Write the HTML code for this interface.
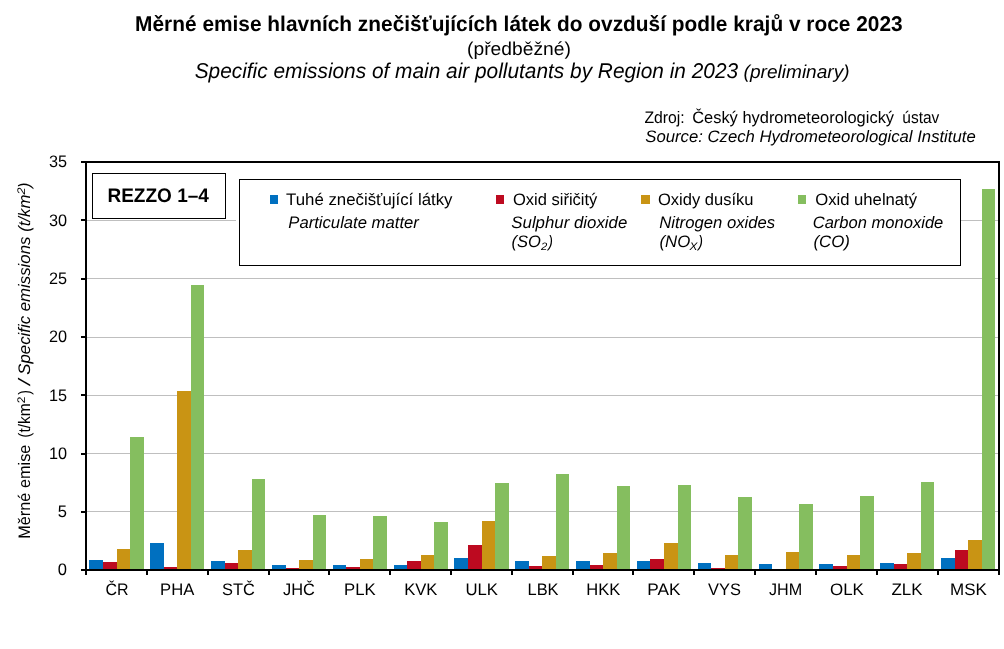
<!DOCTYPE html>
<html lang="cs"><head><meta charset="utf-8"><title>Měrné emise hlavních znečišťujících látek do ovzduší podle krajů v roce 2023</title>
<style>html,body{margin:0;padding:0;background:#fff}svg{display:block}text{font-family:"Liberation Sans",Arial,sans-serif}</style></head>
<body><svg width="1004" height="649" viewBox="0 0 1004 649" shape-rendering="crispEdges" text-rendering="geometricPrecision">
<rect width="1004" height="649" fill="#fff"/>
<rect x="87" y="511" width="911" height="1" fill="#BFBFBF"/>
<rect x="87" y="453" width="911" height="1" fill="#BFBFBF"/>
<rect x="87" y="395" width="911" height="1" fill="#BFBFBF"/>
<rect x="87" y="337" width="911" height="1" fill="#BFBFBF"/>
<rect x="87" y="278" width="911" height="1" fill="#BFBFBF"/>
<rect x="87" y="220" width="911" height="1" fill="#BFBFBF"/>
<rect x="89" y="560" width="14" height="10" fill="#0070C0"/>
<rect x="103" y="562" width="14" height="8" fill="#BD0A20"/>
<rect x="117" y="549" width="13" height="21" fill="#C99414"/>
<rect x="130" y="437" width="14" height="133" fill="#85BE5F"/>
<rect x="150" y="543" width="14" height="27" fill="#0070C0"/>
<rect x="164" y="567" width="13" height="3" fill="#BD0A20"/>
<rect x="177" y="391" width="14" height="179" fill="#C99414"/>
<rect x="191" y="285" width="13" height="285" fill="#85BE5F"/>
<rect x="211" y="561" width="14" height="9" fill="#0070C0"/>
<rect x="225" y="563" width="13" height="7" fill="#BD0A20"/>
<rect x="238" y="550" width="14" height="20" fill="#C99414"/>
<rect x="252" y="479" width="13" height="91" fill="#85BE5F"/>
<rect x="272" y="565" width="14" height="5" fill="#0070C0"/>
<rect x="286" y="568" width="13" height="2" fill="#BD0A20"/>
<rect x="299" y="560" width="14" height="10" fill="#C99414"/>
<rect x="313" y="515" width="13" height="55" fill="#85BE5F"/>
<rect x="333" y="565" width="13" height="5" fill="#0070C0"/>
<rect x="346" y="567" width="14" height="3" fill="#BD0A20"/>
<rect x="360" y="559" width="13" height="11" fill="#C99414"/>
<rect x="373" y="516" width="14" height="54" fill="#85BE5F"/>
<rect x="394" y="565" width="13" height="5" fill="#0070C0"/>
<rect x="407" y="561" width="14" height="9" fill="#BD0A20"/>
<rect x="421" y="555" width="13" height="15" fill="#C99414"/>
<rect x="434" y="522" width="14" height="48" fill="#85BE5F"/>
<rect x="454" y="558" width="14" height="12" fill="#0070C0"/>
<rect x="468" y="545" width="14" height="25" fill="#BD0A20"/>
<rect x="482" y="521" width="13" height="49" fill="#C99414"/>
<rect x="495" y="483" width="14" height="87" fill="#85BE5F"/>
<rect x="515" y="561" width="14" height="9" fill="#0070C0"/>
<rect x="529" y="566" width="13" height="4" fill="#BD0A20"/>
<rect x="542" y="556" width="14" height="14" fill="#C99414"/>
<rect x="556" y="474" width="13" height="96" fill="#85BE5F"/>
<rect x="576" y="561" width="14" height="9" fill="#0070C0"/>
<rect x="590" y="565" width="13" height="5" fill="#BD0A20"/>
<rect x="603" y="553" width="14" height="17" fill="#C99414"/>
<rect x="617" y="486" width="13" height="84" fill="#85BE5F"/>
<rect x="637" y="561" width="13" height="9" fill="#0070C0"/>
<rect x="650" y="559" width="14" height="11" fill="#BD0A20"/>
<rect x="664" y="543" width="14" height="27" fill="#C99414"/>
<rect x="678" y="485" width="13" height="85" fill="#85BE5F"/>
<rect x="698" y="563" width="13" height="7" fill="#0070C0"/>
<rect x="711" y="568" width="14" height="2" fill="#BD0A20"/>
<rect x="725" y="555" width="13" height="15" fill="#C99414"/>
<rect x="738" y="497" width="14" height="73" fill="#85BE5F"/>
<rect x="759" y="564" width="13" height="6" fill="#0070C0"/>
<rect x="786" y="552" width="13" height="18" fill="#C99414"/>
<rect x="799" y="504" width="14" height="66" fill="#85BE5F"/>
<rect x="819" y="564" width="14" height="6" fill="#0070C0"/>
<rect x="833" y="566" width="14" height="4" fill="#BD0A20"/>
<rect x="847" y="555" width="13" height="15" fill="#C99414"/>
<rect x="860" y="496" width="14" height="74" fill="#85BE5F"/>
<rect x="880" y="563" width="14" height="7" fill="#0070C0"/>
<rect x="894" y="564" width="13" height="6" fill="#BD0A20"/>
<rect x="907" y="553" width="14" height="17" fill="#C99414"/>
<rect x="921" y="482" width="13" height="88" fill="#85BE5F"/>
<rect x="941" y="558" width="14" height="12" fill="#0070C0"/>
<rect x="955" y="550" width="13" height="20" fill="#BD0A20"/>
<rect x="968" y="540" width="14" height="30" fill="#C99414"/>
<rect x="982" y="189" width="13" height="381" fill="#85BE5F"/>
<rect x="92.5" y="173.5" width="133" height="45" fill="#fff" stroke="#000" stroke-width="1"/>
<rect x="236" y="219" width="4" height="3" fill="#fff"/>
<rect x="239.5" y="179.5" width="721" height="86" fill="#fff" stroke="#000" stroke-width="1"/>
<rect x="85" y="161" width="915" height="2" fill="#000"/>
<rect x="85" y="161" width="2" height="410" fill="#000"/>
<rect x="998" y="161" width="2" height="410" fill="#000"/>
<rect x="85" y="569" width="915" height="2" fill="#000"/>
<rect x="81" y="569" width="5" height="2" fill="#000"/>
<rect x="81" y="511" width="5" height="2" fill="#000"/>
<rect x="81" y="453" width="5" height="2" fill="#000"/>
<rect x="81" y="394" width="5" height="2" fill="#000"/>
<rect x="81" y="336" width="5" height="2" fill="#000"/>
<rect x="81" y="278" width="5" height="2" fill="#000"/>
<rect x="81" y="219" width="5" height="2" fill="#000"/>
<rect x="81" y="161" width="5" height="2" fill="#000"/>
<rect x="85" y="570" width="2" height="5" fill="#000"/>
<rect x="146" y="570" width="2" height="5" fill="#000"/>
<rect x="207" y="570" width="2" height="5" fill="#000"/>
<rect x="268" y="570" width="2" height="5" fill="#000"/>
<rect x="328" y="570" width="2" height="5" fill="#000"/>
<rect x="389" y="570" width="2" height="5" fill="#000"/>
<rect x="450" y="570" width="2" height="5" fill="#000"/>
<rect x="511" y="570" width="2" height="5" fill="#000"/>
<rect x="572" y="570" width="2" height="5" fill="#000"/>
<rect x="632" y="570" width="2" height="5" fill="#000"/>
<rect x="693" y="570" width="2" height="5" fill="#000"/>
<rect x="754" y="570" width="2" height="5" fill="#000"/>
<rect x="815" y="570" width="2" height="5" fill="#000"/>
<rect x="876" y="570" width="2" height="5" fill="#000"/>
<rect x="937" y="570" width="2" height="5" fill="#000"/>
<rect x="998" y="570" width="2" height="5" fill="#000"/>
<text x="57.80" y="574.90" font-size="16.67" textLength="9.20" lengthAdjust="spacingAndGlyphs" fill="#000">0</text>
<text x="57.80" y="516.90" font-size="16.67" textLength="9.20" lengthAdjust="spacingAndGlyphs" fill="#000">5</text>
<text x="48.90" y="458.90" font-size="16.67" textLength="18.10" lengthAdjust="spacingAndGlyphs" fill="#000">10</text>
<text x="48.90" y="400.90" font-size="16.67" textLength="18.10" lengthAdjust="spacingAndGlyphs" fill="#000">15</text>
<text x="48.90" y="341.90" font-size="16.67" textLength="18.10" lengthAdjust="spacingAndGlyphs" fill="#000">20</text>
<text x="48.90" y="283.90" font-size="16.67" textLength="18.10" lengthAdjust="spacingAndGlyphs" fill="#000">25</text>
<text x="48.90" y="225.90" font-size="16.67" textLength="18.10" lengthAdjust="spacingAndGlyphs" fill="#000">30</text>
<text x="48.90" y="166.90" font-size="16.67" textLength="18.10" lengthAdjust="spacingAndGlyphs" fill="#000">35</text>
<text x="105.40" y="594.90" font-size="16.67" textLength="23.10" lengthAdjust="spacingAndGlyphs" fill="#000">ČR</text>
<text x="160.10" y="594.90" font-size="16.67" textLength="34.20" lengthAdjust="spacingAndGlyphs" fill="#000">PHA</text>
<text x="222.00" y="594.90" font-size="16.67" textLength="32.80" lengthAdjust="spacingAndGlyphs" fill="#000">STČ</text>
<text x="283.00" y="594.90" font-size="16.67" textLength="31.90" lengthAdjust="spacingAndGlyphs" fill="#000">JHČ</text>
<text x="344.10" y="594.90" font-size="16.67" textLength="31.60" lengthAdjust="spacingAndGlyphs" fill="#000">PLK</text>
<text x="404.20" y="594.90" font-size="16.67" textLength="33.20" lengthAdjust="spacingAndGlyphs" fill="#000">KVK</text>
<text x="465.40" y="594.90" font-size="16.67" textLength="32.50" lengthAdjust="spacingAndGlyphs" fill="#000">ULK</text>
<text x="527.50" y="594.90" font-size="16.67" textLength="31.10" lengthAdjust="spacingAndGlyphs" fill="#000">LBK</text>
<text x="586.20" y="594.90" font-size="16.67" textLength="34.00" lengthAdjust="spacingAndGlyphs" fill="#000">HKK</text>
<text x="647.30" y="594.90" font-size="16.67" textLength="33.20" lengthAdjust="spacingAndGlyphs" fill="#000">PAK</text>
<text x="708.10" y="594.90" font-size="16.67" textLength="32.90" lengthAdjust="spacingAndGlyphs" fill="#000">VYS</text>
<text x="769.00" y="594.90" font-size="16.67" textLength="33.20" lengthAdjust="spacingAndGlyphs" fill="#000">JHM</text>
<text x="830.00" y="594.90" font-size="16.67" textLength="33.90" lengthAdjust="spacingAndGlyphs" fill="#000">OLK</text>
<text x="891.50" y="594.90" font-size="16.67" textLength="31.10" lengthAdjust="spacingAndGlyphs" fill="#000">ZLK</text>
<text x="950.00" y="594.90" font-size="16.67" textLength="36.80" lengthAdjust="spacingAndGlyphs" fill="#000">MSK</text>
<text x="135.10" y="31.00" font-size="21.33" font-weight="bold" textLength="767.60" lengthAdjust="spacingAndGlyphs" fill="#000">Měrné emise hlavních znečišťujících látek do ovzduší podle krajů v roce 2023</text>
<text x="467.10" y="54.60" font-size="18.67" textLength="103.80" lengthAdjust="spacingAndGlyphs" fill="#000">(předběžné)</text>
<text x="194.70" y="77.90" font-size="21.33" font-style="italic" textLength="543.40" lengthAdjust="spacingAndGlyphs" fill="#000">Specific emissions of main air pollutants by Region in 2023</text>
<text x="743.60" y="77.90" font-size="18.67" font-style="italic" textLength="106.00" lengthAdjust="spacingAndGlyphs" fill="#000">(preliminary)</text>
<text x="644.40" y="123.00" font-size="16.67" textLength="40.30" lengthAdjust="spacingAndGlyphs" fill="#000">Zdroj:</text>
<text x="692.15" y="123.00" font-size="16.67" textLength="201.95" lengthAdjust="spacingAndGlyphs" fill="#000">Český hydrometeorologický</text>
<text x="902.30" y="123.00" font-size="16.67" textLength="37.00" lengthAdjust="spacingAndGlyphs" fill="#000">ústav</text>
<text x="645.30" y="141.80" font-size="16.67" font-style="italic" textLength="330.40" lengthAdjust="spacingAndGlyphs" fill="#000">Source: Czech Hydrometeorological Institute</text>
<text x="107.40" y="201.70" font-size="19.6" font-weight="bold" textLength="101.50" lengthAdjust="spacingAndGlyphs" fill="#000">REZZO 1–4</text>
<rect x="270" y="195" width="8" height="9" fill="#0070C0"/>
<rect x="496" y="195" width="8" height="9" fill="#BD0A20"/>
<rect x="641" y="195" width="9" height="9" fill="#C99414"/>
<rect x="798" y="195" width="8" height="9" fill="#85BE5F"/>
<text x="286.10" y="204.80" font-size="16.67" textLength="166.40" lengthAdjust="spacingAndGlyphs" fill="#000">Tuhé znečišťující látky</text>
<text x="288.30" y="227.80" font-size="16.67" font-style="italic" textLength="130.53" lengthAdjust="spacingAndGlyphs" fill="#000">Particulate matter</text>
<text x="512.90" y="204.80" font-size="16.67" textLength="84.50" lengthAdjust="spacingAndGlyphs" fill="#000">Oxid siřičitý</text>
<text x="511.30" y="227.80" font-size="16.67" font-style="italic" textLength="116.00" lengthAdjust="spacingAndGlyphs" fill="#000">Sulphur dioxide</text>
<text x="657.90" y="204.80" font-size="16.67" textLength="95.60" lengthAdjust="spacingAndGlyphs" fill="#000">Oxidy dusíku</text>
<text x="659.20" y="227.80" font-size="16.67" font-style="italic" textLength="116.00" lengthAdjust="spacingAndGlyphs" fill="#000">Nitrogen oxides</text>
<text x="815.20" y="204.80" font-size="16.67" textLength="101.90" lengthAdjust="spacingAndGlyphs" fill="#000">Oxid uhelnatý</text>
<text x="812.70" y="227.80" font-size="16.67" font-style="italic" textLength="130.60" lengthAdjust="spacingAndGlyphs" fill="#000">Carbon monoxide</text>
<text x="813.40" y="247.00" font-size="16.67" font-style="italic" textLength="36.50" lengthAdjust="spacingAndGlyphs" fill="#000">(CO)</text>
<text x="511.60" y="247.00" font-size="16.67" font-style="italic" textLength="29.40" lengthAdjust="spacingAndGlyphs" fill="#000">(SO</text>
<text x="541.07" y="249.50" font-size="10.75" font-style="italic" textLength="6.23" lengthAdjust="spacingAndGlyphs" fill="#000">2</text>
<text x="548.26" y="247.00" font-size="16.67" font-style="italic" textLength="4.64" lengthAdjust="spacingAndGlyphs" fill="#000">)</text>
<text x="659.50" y="247.00" font-size="16.67" font-style="italic" textLength="30.80" lengthAdjust="spacingAndGlyphs" fill="#000">(NO</text>
<text x="689.63" y="249.50" font-size="10.75" font-style="italic" textLength="7.90" lengthAdjust="spacingAndGlyphs" fill="#000">X</text>
<text x="698.18" y="247.00" font-size="16.67" font-style="italic" textLength="4.72" lengthAdjust="spacingAndGlyphs" fill="#000">)</text>
<g transform="rotate(-90)">
<text x="-538.80" y="30.20" font-size="16.67" textLength="94.20" lengthAdjust="spacingAndGlyphs" fill="#000">Měrné emise</text>
<text x="-437.70" y="30.20" font-size="16.67" textLength="34.50" lengthAdjust="spacingAndGlyphs" fill="#000">(t/km</text>
<text x="-403.30" y="25.00" font-size="11" textLength="6.70" lengthAdjust="spacingAndGlyphs" fill="#000">2</text>
<text x="-394.70" y="30.20" font-size="16.67" textLength="4.60" lengthAdjust="spacingAndGlyphs" fill="#000">)</text>
<text x="-385.04" y="30.20" font-size="16.67" font-style="italic" textLength="5.68" lengthAdjust="spacingAndGlyphs" fill="#000">/</text>
<text x="-374.70" y="30.20" font-size="16.67" font-style="italic" textLength="138.10" lengthAdjust="spacingAndGlyphs" fill="#000">Specific emissions</text>
<text x="-231.80" y="30.20" font-size="16.67" font-style="italic" textLength="37.20" lengthAdjust="spacingAndGlyphs" fill="#000">(t/km</text>
<text x="-194.62" y="25.00" font-size="11" font-style="italic" textLength="7.03" lengthAdjust="spacingAndGlyphs" fill="#000">2</text>
<text x="-187.71" y="30.20" font-size="16.67" font-style="italic" textLength="5.11" lengthAdjust="spacingAndGlyphs" fill="#000">)</text>
</g>
</svg></body></html>
